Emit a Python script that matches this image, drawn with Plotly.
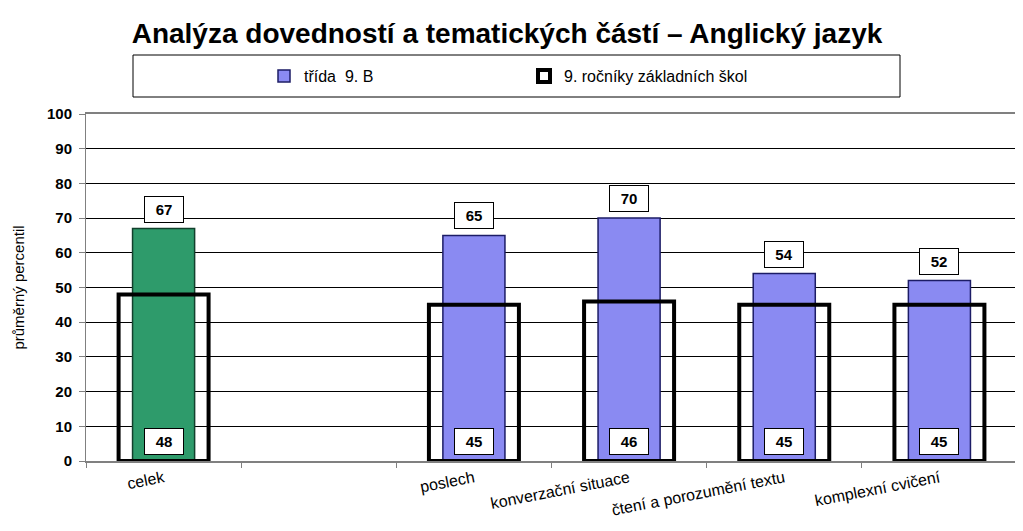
import plotly.graph_objects as go

# data
categories = ["celek", " ", "poslech", "konverzační situace",
              "čtení a porozumění textu", "komplexní cvičení"]
class_values = [67, None, 65, 70, 54, 52]      # třída 9. B
school_values = [48, None, 45, 46, 45, 45]     # 9. ročníky základních škol
y_ticks = list(range(0, 101, 10))

W, H = 1023, 531
OFF = 8  # body margin of the html page
# plot area wanted on screen: x 86..1017, y 114..461
L, T = 86 - OFF, 114 - OFF
R = W - (1017 - OFF)
B = H - (461 - OFF)
pw, ph = W - L - R, H - T - B


def px_x(p):
    return (p - OFF - L) / pw


def px_y(p):
    return (H - B - (p - OFF)) / ph


fig = go.Figure()

# green "celek" bar, no legend entry
fig.add_trace(go.Bar(
    x=categories[:1], y=class_values[:1], width=0.4,
    marker=dict(color="#2E9B6B", line=dict(color="#12402C", width=1.5)),
    showlegend=False, hoverinfo="skip",
))
fig.add_trace(go.Bar(
    x=categories[1:], y=class_values[1:], width=0.4, name="třída  9. B",
    marker=dict(color="#8A8AF2", line=dict(color="#1C1C66", width=1.5)),
))
fig.add_trace(go.Bar(
    x=categories, y=school_values, width=0.58, name="9. ročníky základních škol",
    marker=dict(color="rgba(0,0,0,0)", line=dict(color="black", width=4)),
))

# boxed value labels
for c, v in zip(categories, class_values):
    if v is None:
        continue
    fig.add_annotation(x=c, y=v, text=f"<b>{v}</b>", showarrow=False,
                       yanchor="bottom", yshift=6, bgcolor="white",
                       bordercolor="black", borderwidth=1, borderpad=4,
                       width=30, font=dict(size=15, color="black"))
for c, v in zip(categories, school_values):
    if v is None:
        continue
    fig.add_annotation(x=c, y=0, text=f"<b>{v}</b>", showarrow=False,
                       yanchor="bottom", yshift=6, bgcolor="white",
                       bordercolor="black", borderwidth=1, borderpad=4,
                       width=30, font=dict(size=15, color="black"))

# legend frame
fig.add_shape(type="rect", xref="paper", yref="paper",
              x0=px_x(133), x1=px_x(900), y0=px_y(97), y1=px_y(55),
              line=dict(color="black", width=1), fillcolor="white", layer="below")

fig.update_layout(
    width=W, height=H,
    margin=dict(l=L, r=R, t=T, b=B, autoexpand=False),
    barmode="overlay",
    paper_bgcolor="white", plot_bgcolor="white",
    font=dict(family="Liberation Sans, Arial, sans-serif", color="black"),
    title=dict(text="<b>Analýza dovedností a tematických částí – Anglický jazyk</b>",
               x=(507 - OFF) / W, xref="container", xanchor="center",
               y=1 - (33 - OFF) / H, yref="container", yanchor="middle",
               font=dict(size=28, color="black")),
    legend=dict(orientation="h", x=px_x(264), xanchor="left",
                y=px_y(76), yanchor="middle", entrywidth=215,
                bgcolor="rgba(0,0,0,0)", font=dict(size=16),
                traceorder="normal", itemwidth=30),
    xaxis=dict(type="category", categoryorder="array", categoryarray=categories,
               tickson="boundaries", ticks="outside", ticklen=5,
               tickcolor="#808080", tickangle=-11, automargin=False,
               showline=True, linecolor="#808080", linewidth=2, mirror=True,
               tickfont=dict(size=16), range=[-0.5, 5.5]),
    yaxis=dict(range=[0, 100], tickvals=y_ticks, ticks="outside", ticklen=6,
               tickcolor="#808080", showgrid=True, gridcolor="black", gridwidth=1,
               showline=True, linecolor="#808080", linewidth=1, mirror=True,
               automargin=False, ticklabelstandoff=4,
               tickfont=dict(size=15, family="Liberation Sans, Arial", weight="bold"),
               title=dict(text="průměrný percentil", font=dict(size=15), standoff=18),
               zeroline=False),
)

fig.write_html("out.html")
